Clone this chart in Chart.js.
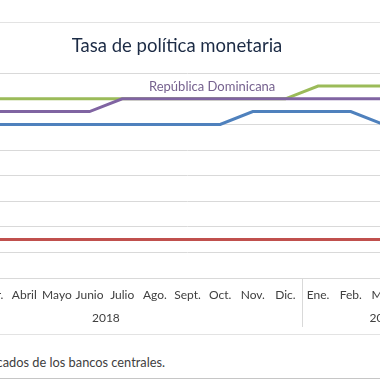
<!DOCTYPE html>
<html><head><meta charset="utf-8">
<script src="https://cdn.jsdelivr.net/npm/chart.js@4"></script>
<style>
html,body{margin:0;padding:0;width:380px;height:380px;overflow:hidden;background:#fff;}
#wrap{position:relative;width:380px;height:380px;overflow:hidden;}
#cv{position:absolute;left:-111px;top:0;}
.hl{position:absolute;left:0;width:380px;height:1px;}
#foot{position:absolute;right:215px;top:354px;white-space:nowrap;font:12.8px Lato;color:#404040;}
</style></head><body>
<div id="wrap">
<div class="hl" style="top:22px;background:#e3e3e3"></div>
<canvas id="cv" width="576" height="334" style="width:576px;height:334px"></canvas>
<div class="hl" style="top:334px;background:#e3e3e3"></div>
<div id="foot">Fuente: elaboración propia con datos publicados de los bancos centrales.</div>
<div class="hl" style="top:378px;background:#c6c6c6"></div>
</div>
<script>
// Categories (Ene. 2018 – Mayo 2019)
const months = ['Ene.','Feb.','Mar.','Abril','Mayo','Junio','Julio','Ago.','Sept.','Oct.','Nov.','Dic.','Ene.','Feb.','Mar.','Abril','Mayo'];
const years = ['2018','2019'];
const yearSpans = [12, 5];
// Y axis ticks
const yTicks = [2.0,2.5,3.0,3.5,4.0,4.5,5.0,5.5,6.0];
// Series (only visible months)
const republicaDominicana = [null,null,5.25,5.25,5.25,5.25,5.5,5.5,5.5,5.5,5.5,5.5,5.5,5.5,5.5,null,null];
const honduras = [null,null,5.5,5.5,5.5,5.5,5.5,5.5,5.5,5.5,5.5,5.5,5.75,5.75,5.75,null,null];
const costaRica = [null,null,5.0,5.0,5.0,5.0,5.0,5.0,5.0,5.0,5.25,5.25,5.25,5.25,5.0,null,null];
const guatemala = [null,null,2.75,2.75,2.75,2.75,2.75,2.75,2.75,2.75,2.75,2.75,2.75,2.75,2.75,null,null];

const grey = '#d9d9d9';
const txt = '#404040';

const yearPlugin = {
  id: 'years',
  afterDraw(chart) {
    const xs = chart.scales.x, ctx = chart.ctx;
    const w = xs.getPixelForValue(1) - xs.getPixelForValue(0);
    const top = chart.chartArea.bottom, bottom = top + 49;
    ctx.save();
    ctx.strokeStyle = grey; ctx.lineWidth = 1;
    ctx.font = '12px Lato'; ctx.fillStyle = txt;
    ctx.textAlign = 'center'; ctx.textBaseline = 'middle';
    let s = 0;
    years.forEach((y, gi) => {
      const n = yearSpans[gi];
      const x0 = xs.getPixelForValue(s) - w / 2;
      const x1 = xs.getPixelForValue(s + n - 1) + w / 2;
      [x0, x1].forEach(x => {
        const px = Math.round(x) + 0.5;
        ctx.beginPath(); ctx.moveTo(px, top); ctx.lineTo(px, bottom); ctx.stroke();
      });
      ctx.fillText(y, (x0 + x1) / 2, top + 40);
      s += n;
    });
    // data label
    const meta = chart.getDatasetMeta(0);
    const pt = meta.data[9];
    ctx.font = '13px Lato'; ctx.fillStyle = '#76628f';
    ctx.textBaseline = 'alphabetic';
    ctx.fillText('República Dominicana', pt.x - 8, pt.y - 7.5);
    ctx.restore();
  }
};

new Chart(document.getElementById('cv'), {
  type: 'line',
  data: {
    labels: months,
    datasets: [
      {label: 'República Dominicana', data: republicaDominicana, borderColor: '#8064a2'},
      {label: 'Honduras', data: honduras, borderColor: '#9bbb59'},
      {label: 'Costa Rica', data: costaRica, borderColor: '#4f81bd'},
      {label: 'Guatemala', data: guatemala, borderColor: '#c0504d'}
    ].map(d => Object.assign(d, {borderWidth: 3, pointRadius: 0, tension: 0, fill: false}))
  },
  options: {
    responsive: false,
    animation: false,
    layout: {padding: 0},
    plugins: {
      legend: {display: false},
      tooltip: {enabled: false},
      title: {
        display: true, text: 'Tasa de política monetaria',
        color: '#1c2b45', font: {family: 'Lato', size: 18.5, weight: 'normal'},
        padding: {top: 35, bottom: 16}
      }
    },
    scales: {
      x: {
        offset: true,
        grid: {display: false, drawTicks: false},
        border: {display: true, color: grey},
        ticks: {autoSkip: false, maxRotation: 0, minRotation: 0, padding: 10,
                color: txt, font: {family: 'Lato', size: 12}},
        afterFit(s) { s.height = 56; s.paddingLeft = 0; s.paddingRight = 0; }
      },
      y: {
        min: 2, max: 6,
        afterBuildTicks(s) { s.ticks = yTicks.map(v => ({value: v})); },
        grid: {color: grey, drawTicks: false},
        border: {display: false},
        ticks: {color: txt, font: {family: 'Lato', size: 12}, callback: v => v.toFixed(2)},
        afterFit(s) { s.width = 21; s.paddingTop = 0; s.paddingBottom = 0; }
      }
    }
  },
  plugins: [yearPlugin]
});
</script>
</body></html>
